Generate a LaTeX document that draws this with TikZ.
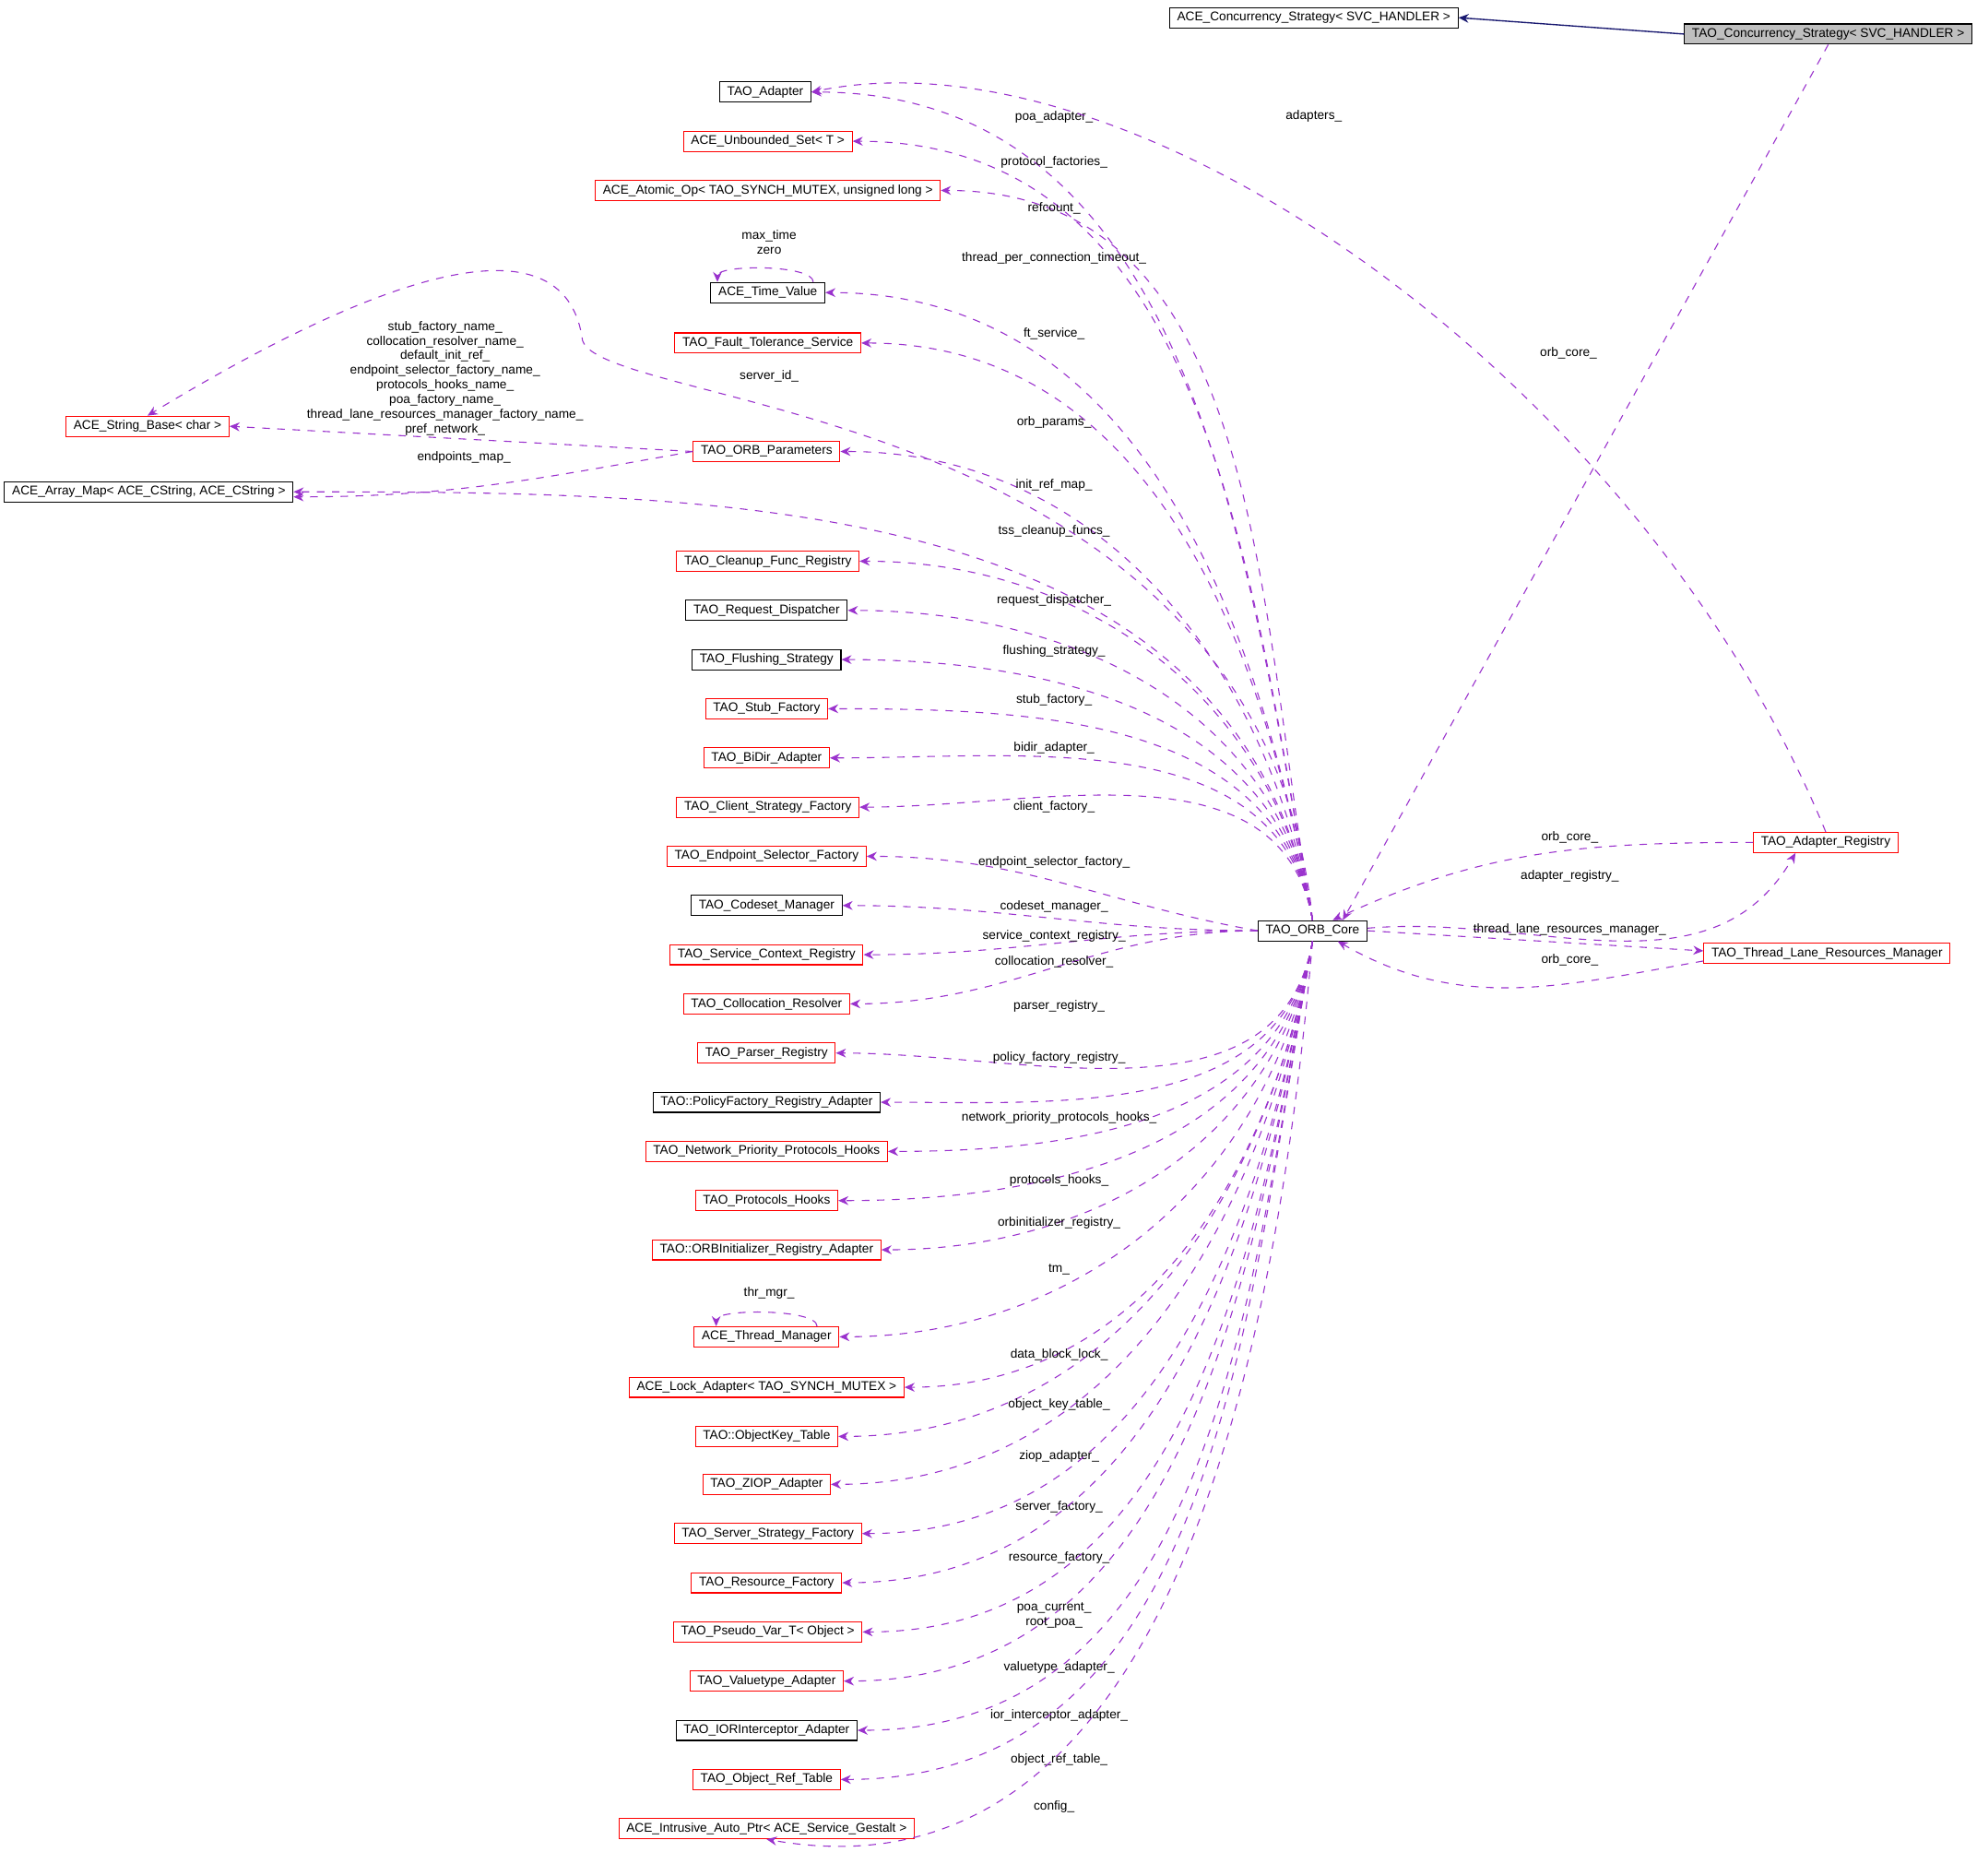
\documentclass[tikz,border=0pt]{standalone}
\usepackage{fontspec}
\setmainfont{Liberation Sans}
\usetikzlibrary{arrows.meta}
\definecolor{dep}{HTML}{9A32CD}
\definecolor{nav}{HTML}{191970}
\begin{document}
\begin{tikzpicture}[x=0.5pt,y=-0.5pt,font=\fontsize{5}{5.8}\selectfont,
 bx/.style={draw=black,line width=0.4pt,minimum height=8pt,inner xsep=3pt,inner ysep=0pt,fill=white},
 rb/.style={bx,draw=red},
 dep/.style={draw=dep,dashed,line width=0.4pt,-{Stealth[length=4pt,width=3.5pt]}},
 lb/.style={inner sep=0pt,align=center}]
\useasboundingbox (0,0) rectangle (1568,1487);
\node[bx] (aconc) at (1042,14) {ACE\_Concurrency\_Strategy< SVC\_HANDLER >};
\node[bx,fill=black!25] (conc) at (1450,27) {TAO\_Concurrency\_Strategy< SVC\_HANDLER >};
\node[bx] (adapter) at (607,73) {TAO\_Adapter};
\node[rb] (uset) at (609,112) {ACE\_Unbounded\_Set< T >};
\node[rb] (atomic) at (609,151) {ACE\_Atomic\_Op< TAO\_SYNCH\_MUTEX, unsigned long >};
\node[bx] (tv) at (609,232) {ACE\_Time\_Value};
\node[rb] (fts) at (609,272) {TAO\_Fault\_Tolerance\_Service};
\node[rb] (strb) at (117,338) {ACE\_String\_Base< char >};
\node[rb] (orbp) at (608,358) {TAO\_ORB\_Parameters};
\node[bx] (amap) at (118,390) {ACE\_Array\_Map< ACE\_CString, ACE\_CString >};
\node[rb] (cfr) at (609,445) {TAO\_Cleanup\_Func\_Registry};
\node[bx] (rd) at (608,484) {TAO\_Request\_Dispatcher};
\node[bx] (fs) at (608,523) {TAO\_Flushing\_Strategy};
\node[rb] (sf) at (608,562) {TAO\_Stub\_Factory};
\node[rb] (bd) at (608,601) {TAO\_BiDir\_Adapter};
\node[rb] (csf) at (609,640) {TAO\_Client\_Strategy\_Factory};
\node[rb] (esf) at (608,679) {TAO\_Endpoint\_Selector\_Factory};
\node[bx] (cm) at (608,718) {TAO\_Codeset\_Manager};
\node[rb] (scr) at (608,757) {TAO\_Service\_Context\_Registry};
\node[rb] (cr) at (608,796) {TAO\_Collocation\_Resolver};
\node[rb] (pr) at (608,835) {TAO\_Parser\_Registry};
\node[bx] (pfr) at (608,874) {TAO::PolicyFactory\_Registry\_Adapter};
\node[rb] (npph) at (608,913) {TAO\_Network\_Priority\_Protocols\_Hooks};
\node[rb] (ph) at (608,952) {TAO\_Protocols\_Hooks};
\node[rb] (oir) at (608,991) {TAO::ORBInitializer\_Registry\_Adapter};
\node[rb] (tm) at (608,1060) {ACE\_Thread\_Manager};
\node[rb] (la) at (608,1100) {ACE\_Lock\_Adapter< TAO\_SYNCH\_MUTEX >};
\node[rb] (okt) at (608,1139) {TAO::ObjectKey\_Table};
\node[rb] (zi) at (608,1177) {TAO\_ZIOP\_Adapter};
\node[rb] (ssf) at (609,1216) {TAO\_Server\_Strategy\_Factory};
\node[rb] (rf) at (608,1255) {TAO\_Resource\_Factory};
\node[rb] (pv) at (609,1294) {TAO\_Pseudo\_Var\_T< Object >};
\node[rb] (va) at (608,1333) {TAO\_Valuetype\_Adapter};
\node[bx] (ioa) at (608,1372) {TAO\_IORInterceptor\_Adapter};
\node[rb] (ort) at (608,1411) {TAO\_Object\_Ref\_Table};
\node[rb] (iap) at (608,1450) {ACE\_Intrusive\_Auto\_Ptr< ACE\_Service\_Gestalt >};
\node[bx] (core) at (1041,738) {TAO\_ORB\_Core};
\node[rb] (adreg) at (1448,668) {TAO\_Adapter\_Registry};
\node[rb] (tlrm) at (1449,756) {TAO\_Thread\_Lane\_Resources\_Manager};
% inheritance
\draw[nav,line width=0.5pt,-{Stealth[length=4pt,width=3.5pt]}] (conc.west) -- (aconc.east);
% upward edges
\foreach \t/\l/\ly in {adapter/poa\_adapter\_/93, uset/protocol\_factories\_/129, atomic/refcount\_/165, tv/thread\_per\_connection\_timeout\_/205, fts/ft\_service\_/265, orbp/orb\_params\_/335, amap/init\_ref\_map\_/385, cfr/tss\_cleanup\_funcs\_/421, rd/request\_dispatcher\_/476, fs/flushing\_strategy\_/516, sf/stub\_factory\_/555, bd/bidir\_adapter\_/593, csf/client\_factory\_/640}{
 \draw[dep] (core.north) to[out=100,in=0] (\t.east);
 \node[lb] at (836,\ly) {\l};}
\node[lb] at (836,684) {endpoint\_selector\_factory\_};
\draw[dep] (core.west) to[out=170,in=0] (esf.east);
\foreach \t/\l/\ly in {cm/codeset\_manager\_/719, scr/service\_context\_registry\_/742, cr/collocation\_resolver\_/763}{
 \draw[dep] (core.west) to[out=180,in=0] (\t.east);
 \node[lb] at (836,\ly) {\l};}
\foreach \t/\l/\ly in {pr/parser\_registry\_/798, pfr/policy\_factory\_registry\_/839, npph/network\_priority\_protocols\_hooks\_/886, ph/protocols\_hooks\_/936, oir/orbinitializer\_registry\_/970, tm/tm\_/1007, la/data\_block\_lock\_/1074, okt/object\_key\_table\_/1114, zi/ziop\_adapter\_/1155, ssf/server\_factory\_/1195, rf/resource\_factory\_/1235, va/valuetype\_adapter\_/1322, ioa/ior\_interceptor\_adapter\_/1360, ort/object\_ref\_table\_/1395}{
 \draw[dep] (core.south) to[out=260,in=0] (\t.east);
 \node[lb] at (840,\ly) {\l};}
\draw[dep] (core.south) to[out=260,in=0] (pv.east);
\node[lb] at (836,1281) {poa\_current\_\\root\_poa\_};
\draw[dep] (core.south) to[out=265,in=-10] (iap.south);
\node[lb] at (836,1433) {config\_};
% server_id_
\draw[dep] (core.north) .. controls (1000,320) and (480,325) .. (462,270) .. controls (450,180) and (330,200) .. (strb.north);
\node[lb] at (610,298) {server\_id\_};
\draw[dep] (orbp.west) -- (strb.east);
\node[lb] at (353,300) {stub\_factory\_name\_\\collocation\_resolver\_name\_\\default\_init\_ref\_\\endpoint\_selector\_factory\_name\_\\protocols\_hooks\_name\_\\poa\_factory\_name\_\\thread\_lane\_resources\_manager\_factory\_name\_\\pref\_network\_};
\draw[dep] (orbp.west) to[out=190,in=0] ([yshift=-2pt]amap.east);
\node[lb] at (368,363) {endpoints\_map\_};
% self loops
\draw[dep] ([xshift=18pt]tv.north) .. controls +(0,-14) and +(0,-14) .. ([xshift=-20pt]tv.north);
\node[lb] at (610,192) {max\_time\\zero};
\draw[dep] ([xshift=20pt]tm.north) .. controls +(0,-14) and +(0,-14) .. ([xshift=-20pt]tm.north);
\node[lb] at (610,1025) {thr\_mgr\_};
% right side
\draw[dep] (adreg.north) .. controls (1300,300) and (900,20) .. (adapter.east);
\node[lb] at (1042,92) {adapters\_};
\draw[dep] (conc.south) -- ([xshift=12pt]core.north);
\node[lb] at (1244,280) {orb\_core\_};
\draw[dep] (adreg.west) to[out=180,in=25] ([xshift=8pt]core.north);
\node[lb] at (1245,664) {orb\_core\_};
\draw[dep] ([yshift=1pt]core.east) to[out=5,in=240] ([xshift=-12pt]adreg.south);
\node[lb] at (1245,695) {adapter\_registry\_};
\draw[dep] (core.east) -- ([yshift=1pt]tlrm.west);
\node[lb] at (1245,737) {thread\_lane\_resources\_manager\_};
\draw[dep] ([yshift=-3pt]tlrm.west) to[out=190,in=-30] ([xshift=10pt]core.south);
\node[lb] at (1245,761) {orb\_core\_};
\end{tikzpicture}
\end{document}
